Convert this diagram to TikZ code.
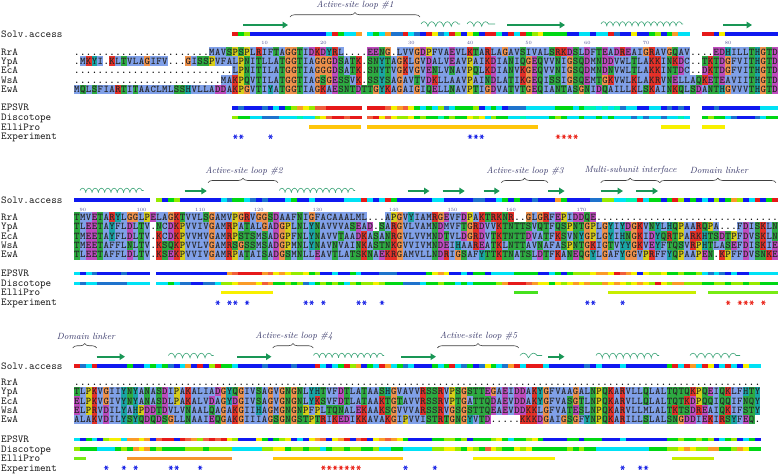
\documentclass[tikz,border=0pt]{standalone}
\usetikzlibrary{arrows.meta,decorations.pathreplacing,decorations.pathmorphing}
% residue colours (Clustal-like)
\definecolor{cHyd}{RGB}{128,160,232}
\definecolor{cPos}{RGB}{228,48,40}
\definecolor{cNeg}{RGB}{190,75,190}
\definecolor{cPol}{RGB}{45,170,65}
\definecolor{cGly}{RGB}{238,145,75}
\definecolor{cPro}{RGB}{215,205,25}
\definecolor{cAro}{RGB}{25,165,165}
\colorlet{aaA}{cHyd}\colorlet{aaI}{cHyd}\colorlet{aaL}{cHyd}\colorlet{aaM}{cHyd}
\colorlet{aaF}{cHyd}\colorlet{aaW}{cHyd}\colorlet{aaV}{cHyd}\colorlet{aaC}{cHyd}
\colorlet{aaK}{cPos}\colorlet{aaR}{cPos}
\colorlet{aaD}{cNeg}\colorlet{aaE}{cNeg}
\colorlet{aaN}{cPol}\colorlet{aaQ}{cPol}\colorlet{aaS}{cPol}\colorlet{aaT}{cPol}
\colorlet{aaG}{cGly}\colorlet{aaP}{cPro}\colorlet{aaH}{cAro}\colorlet{aaY}{cAro}
% bar colours
\definecolor{bcb}{RGB}{15,25,240}
\definecolor{bcd}{RGB}{30,115,205}
\definecolor{bcc}{RGB}{0,225,245}
\definecolor{bca}{RGB}{0,245,175}
\definecolor{bcg}{RGB}{0,215,20}
\definecolor{bcl}{RGB}{150,235,0}
\definecolor{bcy}{RGB}{245,240,0}
\definecolor{bco}{RGB}{250,155,40}
\definecolor{bcs}{RGB}{240,95,60}
\definecolor{bcr}{RGB}{230,25,25}
% ElliPro colours
\definecolor{elgold}{RGB}{255,198,10}
\definecolor{elyel}{RGB}{248,240,0}
\definecolor{elgreen}{RGB}{70,225,30}
\definecolor{elyg}{RGB}{200,238,0}
\definecolor{ellime}{RGB}{120,235,20}
\definecolor{elorange}{RGB}{245,150,45}
% misc
\definecolor{ssgreen}{RGB}{25,150,85}
\definecolor{sshelix}{RGB}{60,165,120}
\definecolor{tickc}{RGB}{80,80,150}
\definecolor{loopc}{RGB}{55,55,105}
\definecolor{starblue}{RGB}{30,40,230}
\definecolor{starred}{RGB}{235,40,30}

\newcount\rescol
\def\seqrow#1#2{\global\rescol=0\relax\def\rowy{#1}\seqloop#2\relax}
\def\seqloop#1{\ifx\relax#1\else\seqcell#1\expandafter\seqloop\fi}
\def\seqcell#1{%
  \global\advance\rescol by 1\relax
  \pgfmathsetmacro\cx{74+(\the\rescol-0.5)*5.867}%
  \if.#1%
    \node[gapdot] at (\cx,\rowy+3.2) {.};%
  \else
    \fill[aa#1] (\cx-2.98,\rowy-4.8) rectangle (\cx+2.98,\rowy+4.8);%
    \node[restxt] at (\cx,\rowy+3.2) {#1};%
  \fi}
\def\barrow#1#2#3{\global\rescol=#2\relax\global\advance\rescol by -1\relax\def\bary{#1}\barloop#3\relax}
\def\barloop#1{\ifx\relax#1\else\barcell#1\expandafter\barloop\fi}
\def\barcell#1{%
  \global\advance\rescol by 1\relax
  \if-#1\else
    \pgfmathsetmacro\cx{74+(\the\rescol-1)*5.867}%
    \fill[bc#1] (\cx,\bary) rectangle (\cx+5.95,\bary+3.6);%
  \fi}
\newcommand\starrow[3]{%
  \foreach \k in {#3}{\pgfmathsetmacro\sx{74+(\k-0.5)*5.867}%
    \draw[#2,line width=0.85pt] (\sx-2.3,#1) -- (\sx+2.3,#1) (\sx-1.15,#1-2) -- (\sx+1.15,#1+2) (\sx-1.15,#1+2) -- (\sx+1.15,#1-2);}}

\begin{document}
\begin{tikzpicture}[x=1pt,y=-1pt,
  declare function={cl(\k)=74+(\k-1)*5.867; cm(\k)=74+(\k-0.5)*5.867;},
  restxt/.style={anchor=base,inner sep=0pt,font=\fontsize{10.3}{10}\selectfont\ttfamily\bfseries,text=black!85},
  gapdot/.style={anchor=base,inner sep=0pt,font=\fontsize{10.3}{10}\selectfont\ttfamily\bfseries,text=black},
  lbl/.style={anchor=base west,inner sep=0pt,font=\fontsize{10.6}{11}\selectfont\ttfamily,text=black!90},
  tick/.style={anchor=base,inner sep=0pt,font=\fontsize{4.8}{5}\selectfont,text=tickc},
  strand/.style={draw=ssgreen,line width=2.4pt,-{Triangle[length=5.5pt,width=6.5pt]}},
  helixst/.style={draw=sshelix,line width=0.6pt,decorate,decoration={coil,amplitude=2.3pt,aspect=0.45,segment length=#1}},
  bracest/.style={draw=black!75,line width=0.6pt,decorate,decoration={brace,amplitude=4.5pt}},
  loopl/.style={inner sep=0pt,font=\fontsize{9}{10}\selectfont\itshape,text=loopc},
  ]
\fill[white] (0,0) rectangle (778,475);
\useasboundingbox (0,0) rectangle (778,475);

%================ BLOCK 1 ================
\node[loopl] (l1) at (355,5) {Active-site loop \#1};
\draw[bracest] (290,17) -- (420,17);
\draw[strand] (243,25) -- (288,25);
\draw[helixst=7.8pt] (421,24) -- (460,24);
\draw[helixst=7.8pt] (467,24) -- (495,24);
\draw[strand] (507,25) -- (565,25);
\draw[helixst=6.3pt] (601,24) -- (683,24);
\draw[strand] (723,25) -- (752,25);

\node[lbl] at (1,37.5) {Solv.access};
\barrow{32.4}{28}{rglbbbbbbbbbbbbbcrgcco - cgcoddrcdb rydcrlbygb rrabrcrgly ggggbbccbc crdbbybbgl bgocc -- rrbybbbbbbbbb}

\foreach \n/\c in {10/33,20/43,30/58,40/68,50/78,60/88,70/98,80/112}
  \node[tick] at ({cm(\c)},44) {\n};

\node[lbl] at (1,55) {RrA};
\node[lbl] at (1,64.4) {YpA};
\node[lbl] at (1,73.8) {EcA};
\node[lbl] at (1,83.2) {WsA};
\node[lbl] at (1,92.6) {EwA};
\seqrow{51.8}{.......................MAVSPSPLRIFTAGGTIDKDYRL....EENG.LVVGDPFVAEVLKTARLAGAVSIVALSRKDSLDFTEADREAIGRAVGQAV....EDHILLTHGTD}
\seqrow{61.2}{.MKYI.KLTVLAGIFV...GISSPVFALPNITLLATGGTIAGGGDSATK.SNYTAGKLGVDALVEAVPAIKDIANIQGEQVVNIGSQDMNDDVWLTLAKKINKDC..TKTDGFVITHGTD}
\seqrow{70.6}{...........................LPNITILATGGTIAGGGDSATK.SNYTVGKVGVENLVNAVPQLKDIANVKGEQVVNIGSQDMNDNVWLTLAKKINTDC..DKTDGFVITHGTD}
\seqrow{80.0}{.........................MAKPQVTILATGGTIAGSGESSVK.SSYSAGAVTVDKLLAAVPAINDLATIKGEQISSIGSQEMTGKVWLKLAKRVNELLAQKETEAVIITHGTD}
\seqrow{89.4}{MQLSFIARTITAACLMLSSHVLLADDAKPGVTIYATGGTIAGKAESNTDTTGYKAGAIGIQELLNAVPTIGDVATVTGEQIANTASGNIDQAILLKLSKAINKQLSDANTHGVVVTHGTD}

\node[lbl] at (1,110.9) {EPSVR};
\node[lbl] at (1,120.5) {Discotope};
\node[lbl] at (1,130.2) {ElliPro};
\node[lbl] at (1,139.9) {Experiment};
\barrow{106}{28}{bdbbbdbcbgloylssrrrrrr - rrrsyosygc gcldcggglb cgcbdddccc ccgggcgaac acadccbbcc bdbdb -- bbdbbbbbbbccc}
\barrow{115.6}{28}{lggccdddcccacclysrrsrr - srysyllygl ggaglggyly clggccaccc cglgccgccg cgcccdcdcc dccac -- glggcdbbbdcgg}
\fill[elgold] ({cl(41)},125.3) rectangle ({cl(50)},128.8);
\fill[elgold] ({cl(51)},125.3) rectangle ({cl(80)},128.8);
\fill[elyel] ({cl(101)},125.3) rectangle ({cl(106)},128.8);
\fill[elyel] ({cl(108)},125.3) rectangle ({cl(112)},128.8);
\starrow{136.7}{starblue}{28,29,34,68,69,70}
\starrow{136.7}{starred}{83,84,85,86}

%================ BLOCK 2 ================
\node[loopl] at (244,170.7) {Active-site loop \#2};
\draw[bracest] (208,182.7) -- (278,182.7);
\node[loopl] at (525,170.7) {Active-site loop \#3};
\draw[bracest] (501.3,182.7) -- (548,182.7);
\node[loopl] at (630.5,170.7) {Multi-subunit interface};
\draw[bracest] (600.7,182.7) -- (659.7,182.7);
\node[loopl] at (719,170.7) {Domain linker};
\draw[bracest] (659.7,182.7) -- (776,182.7);

\draw[helixst=6.3pt] (80,190.5) -- (143.6,190.5);
\draw[strand] (184.5,191) -- (206.8,191);
\draw[helixst=6.3pt] (279.3,190.5) -- (355,190.5);
\draw[strand] (407.5,191) -- (429.5,191);
\draw[strand] (442.5,191) -- (464.8,191);
\draw[strand] (483.5,191) -- (499.8,191);
\draw[strand] (548.3,191) -- (564.6,191);
\draw[strand] (600.6,191) -- (623,191);
\draw[strand] (636,191) -- (658,191);

\node[lbl] at (1,203.5) {Solv.access};
\barrow{198}{1}{bbbbbbbbbbbbb - lbglbbbbbb bcdggcdbdb bbcgbbcbbb bbcccrcbcr gbbbbbbccb bbbbddbbcg bgbbdbbbog bbbbddllcc aarcggbgrl bgbcblbgol bcrbgr}

\foreach \n/\c in {90/2,100/12,110/22,120/32,130/42,140/55,150/65,160/75,170/87}
  \node[tick] at ({cm(\c)},211) {\n};

\node[lbl] at (1,220.3) {RrA};
\node[lbl] at (1,229.7) {YpA};
\node[lbl] at (1,239.1) {EcA};
\node[lbl] at (1,248.5) {WsA};
\node[lbl] at (1,257.9) {EwA};
\seqrow{217.1}{TMVETARYLGGLPELAGKTVVLSGAMVPGRVGGSDAAFNIGFACAAALML...APGVYIAMRGEVFDPAKTRKNR..GLGRFEPIDDQE...............................}
\seqrow{226.5}{TLEETAYFLDLTV.NCDKPVVIVGAMRPATALGADGPLNLYNAVVVASEAD.SARGVLVAMNDMVFTGRDVVKTNTTSVQTFQSPNTGPLGYIYDGKVNYLHQPAARQPA...FDISKLN}
\seqrow{235.9}{TMEETAYFLDLTV.KCDKPVVMVGAMRPSTSMSADGPFNLYNAVVTAADKASANRGVLVVMNDTVLDGRDVTKTNTTDVATFKSVNYGPLGYIHNGKIDYQRTPARKHTSDTPFDVSKLN}
\seqrow{245.3}{TMEETAFFLNLTV.KSQKPVVLVGAMRSGSSMSADGPMNLYNAVNVAINKASTNKGVVIVMNDEIHAAREATKLNTTAVNAFASPNTGKIGTVYYGKVEYFTQSVRPHTLASEFDISKIE}
\seqrow{254.7}{TLEETAFFLDLTV.KSEKPVVIVGAMRPATAISADGSMNLLEAVTLATSKNAEKRGAMVLLNDRIGSAFYTTKTNATSLDTFKANEQGYLGAFYGGVPRFFYQPAAPEN.KPFFDVSNKE}

\node[lbl] at (1,276.5) {EPSVR};
\node[lbl] at (1,286.5) {Discotope};
\node[lbl] at (1,295.9) {ElliPro};
\node[lbl] at (1,305.9) {Experiment};
\barrow{271.5}{1}{cbcdbbbbdbbbb - bbbbbbbbbbbb osrrrrosyo yllyglbbcb bgcbbbdddb bbbbgyoybb cbggbccccg gggbbcgbgl llyooyrsoy byllygglgg lcdcdbcbbc cccc}
\barrow{281.5}{1}{cdccdddddcccc - ccgcddbbdd cllyoooyso gglgldcglg lgclgllylg ggdddcgglg gcgcgggglo rrrsoyygyl yoyolloyoy lyoylryloo lllggllgll gllggg}
\fill[elyel] ({cl(26)},291) rectangle ({cl(35)},294.4);
\fill[elgreen] ({cl(76)},291) rectangle ({cl(80)},294.4);
\fill[elyg] ({cl(92)},291) rectangle ({cl(107)},294.4);
\fill[ellime] ({cl(109)},291) rectangle ({cl(121)},294.4);
\starrow{302.7}{starblue}{25,27,28,30,40,41,43,49,50,53,88,89,94}
\starrow{302.7}{starred}{112,114,115,116,118}

%================ BLOCK 3 ================
\node[loopl] at (86,336) {Domain linker};
\draw[bracest] (72.7,348) -- (96.7,348);
\node[loopl] at (294,336) {Active-site loop \#4};
\draw[bracest] (272.7,348) -- (313.3,348);
\node[loopl] at (478.5,336) {Active-site loop \#5};
\draw[bracest] (437.3,348) -- (518.7,348);

\draw[strand] (96.5,356.7) -- (125,356.7);
\draw[helixst=7.5pt] (168.4,355.5) -- (213.5,355.5);
\draw[strand] (237,356.7) -- (271.5,356.7);
\draw[helixst=6.4pt] (313.5,355.5) -- (384,355.5);
\draw[strand] (401,356.7) -- (436,356.7);
\draw[helixst=10pt] (520,355.5) -- (542,355.5);
\draw[strand] (548,356.7) -- (564.5,356.7);
\draw[helixst=7pt] (596,355.5) -- (659,355.5);
\draw[helixst=8pt] (690,355.5) -- (740,355.5);

\node[lbl] at (1,369.2) {Solv.access};
\barrow{364.2}{1}{rdcrbbbbbg bbcgcgdbco brblrggcbb bbdbbbbdbb brcbcgrlob gcrocgdcbb bgcgrcdgbd ygcdorcrrr cbbbbbbdbc bbbcbbbbbb bgrcrocryb crcbycc}

\node[lbl] at (1,385.2) {RrA};
\node[lbl] at (1,394.6) {YpA};
\node[lbl] at (1,404) {EcA};
\node[lbl] at (1,413.4) {WsA};
\node[lbl] at (1,422.8) {EwA};
\seqrow{382}{.....................................................................................................................}
\seqrow{391.4}{TLPKVGIIYNYANASDIPAKALIADGYQGIVSAGVGNGNLYHTVFDTLATAASHGVAVVRSSRVPSGSTTEGAEIDDAKYGFVAAGALNPQKARVLLQLALTQTQKPQEIQKLFHTY}
\seqrow{400.8}{ELPKVGIVYNYANASDLPAKALVDAGYDGIVSAGVGNGNLYKSVFDTLATAAKTGTAVVRSSRVPTGATTQDAEVDDAKYGFVASGTLNPQKARVLLQLALTQTKDPQQIQQIFNQY}
\seqrow{410.2}{ELPRVDILYAHPDDTDVLVNAALQAGAKGIIHAGMGNGNPFPLTQNALEKAAKSGVVVARSSRVGSGSTTQEAEVDDKKLGFVATESLNPQKARVLLMLALTKTSDREAIQKIFSTY}
\seqrow{419.6}{ALAKVDILYSYQDQDSGLLNAAIEQGAKGIIIAGSGNGSTPTRIKEDIKKAVAKGIPVVISTRTGNGYVTD.....KKKDGAIGSGFYNPQKARILLSLALSNGDDIEKIRSYFEQ.}

\node[lbl] at (1,442.5) {EPSVR};
\node[lbl] at (1,452.2) {Discotope};
\node[lbl] at (1,461.9) {ElliPro};
\node[lbl] at (1,471.7) {Experiment};
\barrow{437.6}{1}{cbgcblyyco oyobsrrbrs olsrsrylbb bygbglybcb yosbyorbsr byosoygbbb bggllglbgg glygcgglyg bbbbggbggg bbbcbbbbbb bgglgglglb cglbcgb}
\barrow{447.3}{1}{lgggcccglg oyoglggggl llgllllccc ccllyygllg llcgllgllg glccggcccc cllyylgylg sylggylygg gggglglggc ccccccccgg gllyoylloo ggloygg}
\fill[ellime] ({cl(1)},457) rectangle ({cl(3)},460.4);
\fill[elorange] ({cl(10)},457) rectangle ({cl(28)},460.4);
\fill[elgold] ({cl(35)},457) rectangle ({cl(57)},460.4);
\fill[elyel] ({cl(69)},457) rectangle ({cl(83)},460.4);
\fill[elyg] ({cl(103)},457) rectangle ({cl(110)},460.4);
\starrow{467.7}{starblue}{6,9,11,17,18,22,57,62,94,97,98}
\starrow{467.7}{starred}{43,44,45,46,47,48,49}
\end{tikzpicture}
\end{document}
